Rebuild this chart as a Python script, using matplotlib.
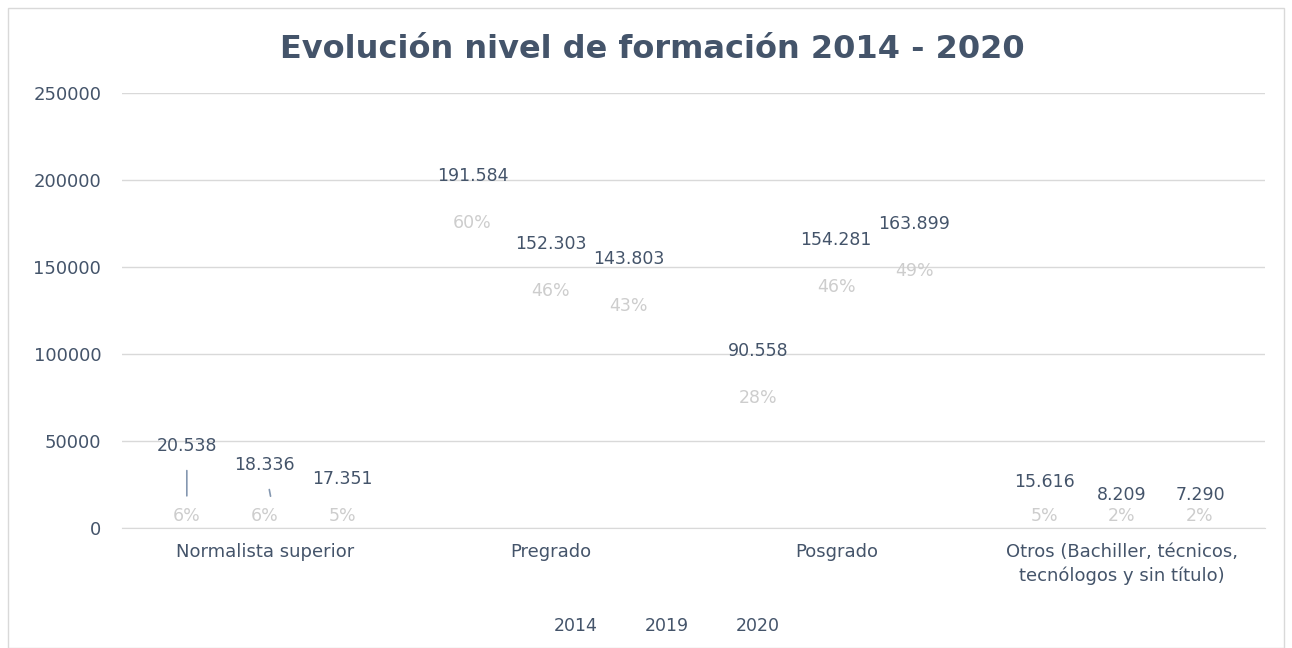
import numpy as np
import matplotlib.pyplot as plt
from matplotlib.patches import Patch, Rectangle

plt.rcParams['font.family'] = ['DejaVu Sans']

categories = ['Normalista superior', 'Pregrado', 'Posgrado',
              'Otros (Bachiller, técnicos,\ntecnólogos y sin título)']
years = ['2014', '2019', '2020']
v2014 = [20538, 191584, 90558, 15616]
v2019 = [18336, 152303, 154281, 8209]
v2020 = [17351, 143803, 163899, 7290]
p2014 = ['6%', '60%', '28%', '5%']
p2019 = ['6%', '46%', '46%', '2%']
p2020 = ['5%', '43%', '49%', '2%']

txt = '#44546A'
grey = '#CDCDCD'
gridc = '#D9D9D9'

fig = plt.figure(figsize=(12.92, 6.48), dpi=100)
ax = fig.add_axes([0.0944, 0.185, 0.8846, 0.6715])

x = np.arange(len(categories))
w = 0.273
series = [v2014, v2019, v2020]
pcts = [p2014, p2019, p2020]
fs = 12.5

for i, (vals, pc) in enumerate(zip(series, pcts)):
    xs = x + (i - 1) * w
    # bars have no fill in the original, only the labels are visible
    ax.bar(xs, vals, width=w * 0.9, color='none', edgecolor='none', label=years[i])
    for j, (xx, v, p) in enumerate(zip(xs, vals, pc)):
        py = max(v - 16000, 7000)
        vy = max(v + 11000, py + 12000)
        lbl = f'{v:,}'.replace(',', '.')
        if j == 0 and i < 2:
            # labels lifted with a leader line
            lift = 47000 if i == 0 else 36000
            ax.annotate(lbl, xy=(xx + i * 0.02, vy - 13000 + i * 2000),
                        xytext=(xx, lift), ha='center', va='center',
                        fontsize=fs, color=txt,
                        arrowprops=dict(arrowstyle='-', color='#8497B0', lw=1.2,
                                        shrinkA=9, shrinkB=0))
        else:
            ax.text(xx, vy, lbl, ha='center', va='center', fontsize=fs, color=txt)
        ax.text(xx, py, p, ha='center', va='center', fontsize=fs, color=grey)

ax.set_xlim(-0.5, len(categories) - 0.5)
ax.set_ylim(0, 250000)
ax.set_yticks(np.arange(0, 250001, 50000))
ax.yaxis.grid(True, color=gridc, linewidth=1)
ax.set_axisbelow(True)
for s in ['top', 'right', 'left']:
    ax.spines[s].set_visible(False)
ax.spines['bottom'].set_color(gridc)
ax.set_xticks(x)
ax.set_xticklabels(categories, fontsize=13, color=txt, linespacing=1.35)
ax.tick_params(axis='x', length=0, pad=11)
ax.tick_params(axis='y', length=0, pad=15, labelsize=fs + 0.5, labelcolor=txt)

fig.suptitle('Evolución nivel de formación 2014 - 2020', x=0.505, y=0.948,
             fontsize=23, fontweight='bold', color=txt)

handles = [Patch(facecolor='none', edgecolor='none') for _ in years]
fig.legend(handles, years, loc='center', bbox_to_anchor=(0.508, 0.034), ncol=3,
           frameon=False, fontsize=fs, labelcolor=txt, handlelength=0.8,
           handletextpad=0.4, columnspacing=1.5)

fig.patches.append(Rectangle((0.006, 0.0), 0.988, 0.988, transform=fig.transFigure,
                             fill=False, edgecolor='#D9D9D9', linewidth=1))

fig.savefig('out.png', dpi=100)
